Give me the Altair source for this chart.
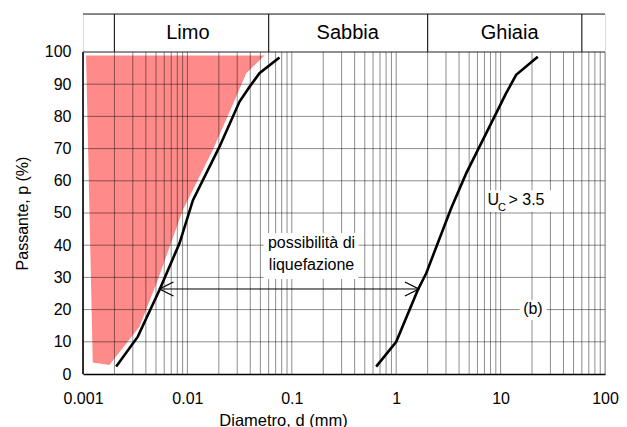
import altair as alt
import pandas as pd

# ---- data ----
left_d = [0.00208, 0.00335, 0.0054, 0.0084, 0.0113, 0.0203, 0.0316, 0.0394, 0.049, 0.0762]
left_p = [2.3, 11.6, 26.1, 40.6, 54.0, 70.6, 84.6, 89.2, 93.4, 98.3]
right_d = [0.643, 1.0, 1.61, 1.94, 3.36, 4.68, 6.28, 9.08, 11.3, 14.1, 22.7]
right_p = [2.3, 10.0, 26.1, 31.3, 51.5, 62.3, 70.6, 81.0, 87.2, 92.9, 98.5]

# liquefaction zone (red): lower boundary vs diameter, flat top
red_d = [0.00107, 0.00124, 0.00179, 0.00347, 0.0052, 0.00904, 0.0175, 0.0293, 0.0366, 0.0548]
red_low = [98.9, 3.6, 2.8, 14.7, 29.2, 50.9, 69.6, 86.1, 93.4, 98.9]
red_top = 98.9

x_ticks = [0.001, 0.01, 0.1, 1, 10, 100]
y_ticks = [0, 10, 20, 30, 40, 50, 60, 70, 80, 90, 100]
grid_x = [0.001, 0.002, 0.003, 0.004, 0.005, 0.006, 0.007, 0.008, 0.009,
          0.01, 0.02, 0.03, 0.04, 0.05, 0.06, 0.07, 0.08, 0.09,
          0.1, 0.2, 0.3, 0.4, 0.5, 0.6, 0.7, 0.8, 0.9,
          1, 2, 3, 4, 5, 6, 7, 8, 9,
          10, 20, 30, 40, 50, 60, 70, 80, 90, 100]
grid_y = [10, 20, 30, 40, 50, 60, 70, 80, 90]

class_bounds = [0.002, 0.06, 2, 60]
class_names = ["Limo", "Sabbia", "Ghiaia"]
class_label_d = [0.0101, 0.3436, 12.2]

arrow_p = 26.4
arrow_from = 0.0054
arrow_to = 1.65

FONT = "Liberation Sans"
P_MAX = 100
HEADER_TOP = 111.8

X = alt.Scale(type="log", domain=[0.001, 100], nice=False)
Y = alt.Scale(domain=[0, HEADER_TOP], nice=False, zero=False)

AX = alt.Axis(
    values=x_ticks, format="~g", title="Diametro, d (mm)", grid=False,
    ticks=False, tickSize=0, labelPadding=16, labelFontSize=16, labelFont=FONT,
    labelColor="black", domainColor="black", domainWidth=1.5,
    titleFont=FONT, titleFontSize=16.5, titleFontWeight="normal", titleColor="black",
    titleX=200, titleY=51, titleBaseline="alphabetic", labelFlush=False)
AY = alt.Axis(
    values=y_ticks, title="Passante, p (%)", grid=False, domain=False,
    ticks=False, tickSize=0, labelPadding=12, labelFontSize=16, labelFont=FONT,
    labelColor="black", titleFont=FONT, titleFontSize=16, titleFontWeight="normal",
    titleColor="black", titleX=-56, titleY=199, titleBaseline="alphabetic")


def xe(f):
    return alt.X(f, type="quantitative", scale=X, axis=AX)


def ye(f):
    return alt.Y(f, type="quantitative", scale=Y, axis=AY)


red = alt.Chart(pd.DataFrame({"d": red_d, "lo": red_low, "hi": red_top})).mark_area(
    color="#ff8a8a", opacity=1
).encode(x=xe("d"), y=ye("hi"), y2="lo:Q")

# grid drawn as paths (two points per line), layered above the red zone
gv_rows = []
for k, d in enumerate(grid_x):
    gv_rows.append({"d": d, "p": 0, "g": "v%d" % k})
    gv_rows.append({"d": d, "p": P_MAX, "g": "v%d" % k})
for k, p in enumerate(grid_y):
    gv_rows.append({"d": 0.001, "p": p, "g": "h%d" % k})
    gv_rows.append({"d": 100, "p": p, "g": "h%d" % k})
grid = alt.Chart(pd.DataFrame(gv_rows)).mark_line(
    color="black", strokeOpacity=0.45, strokeWidth=1
).encode(x=xe("d"), y=ye("p"), detail="g:N", order=alt.Order("p:Q"))

curves_df = pd.concat([
    pd.DataFrame({"d": left_d, "p": left_p, "s": "a"}),
    pd.DataFrame({"d": right_d, "p": right_p, "s": "b"}),
])
curves = alt.Chart(curves_df).mark_line(color="black", strokeWidth=2.6).encode(
    x=xe("d"), y=ye("p"), detail="s:N", order=alt.Order("p:Q")
)

arrow = alt.Chart(pd.DataFrame({"d0": [arrow_from], "d1": [arrow_to], "p": [arrow_p]})).mark_rule(
    color="black", strokeWidth=1
).encode(x=xe("d0"), x2="d1:Q", y=ye("p"))

head_l = alt.Chart(pd.DataFrame({"d": [arrow_from], "p": [arrow_p]})).mark_point(
    shape="M1,-0.5L0,0L1,0.5", filled=False, size=784, color="black", strokeWidth=1.3, opacity=1
).encode(x=xe("d"), y=ye("p"))
head_r = alt.Chart(pd.DataFrame({"d": [arrow_to], "p": [arrow_p]})).mark_point(
    shape="M-1,-0.5L0,0L-1,0.5", filled=False, size=784, color="black", strokeWidth=1.3, opacity=1
).encode(x=xe("d"), y=ye("p"))

boxes = alt.Chart(pd.DataFrame({
    "d0": [0.0536, 7.16, 15.2], "d1": [0.435, 35.1, 27.5],
    "p0": [29.5, 50.3, 16.8], "p1": [43.8, 57.1, 23.0],
})).mark_rect(color="white").encode(x=xe("d0"), x2="d1:Q", y=ye("p0"), y2="p1:Q")

ann = alt.Chart(pd.DataFrame({
    "d": [0.1545, 0.1545, 20.4],
    "p": [39.1, 32.3, 18.6],
    "t": ["possibilità di", "liquefazione", "(b)"],
})).mark_text(font=FONT, fontSize=16, align="center", baseline="alphabetic", color="black").encode(
    x=xe("d"), y=ye("p"), text="t:N"
)

uc_big = alt.Chart(pd.DataFrame({"d": [7.5, 11.9], "p": [52.5, 52.5], "t": ["U", "> 3.5"]})).mark_text(
    font=FONT, fontSize=16, align="left", baseline="alphabetic", color="black"
).encode(x=xe("d"), y=ye("p"), text="t:N")
uc_sub = alt.Chart(pd.DataFrame({"d": [9.44], "p": [50.7], "t": ["C"]})).mark_text(
    font=FONT, fontSize=11, align="left", baseline="alphabetic", color="black"
).encode(x=xe("d"), y=ye("p"), text="t:N")

left_border = alt.Chart(pd.DataFrame({"d": [0.001], "p0": [0], "p1": [P_MAX]})).mark_rule(
    color="black", strokeWidth=1.5
).encode(x=xe("d"), y=ye("p0"), y2="p1:Q")

header_h = alt.Chart(pd.DataFrame({"p": [P_MAX, HEADER_TOP], "d0": 0.001, "d1": 100})).mark_rule(
    color="#222222", strokeWidth=1.2
).encode(x=xe("d0"), x2="d1:Q", y=ye("p"))

header_v = alt.Chart(pd.DataFrame({"d": class_bounds, "p0": P_MAX, "p1": HEADER_TOP})).mark_rule(
    color="#222222", strokeWidth=1.2
).encode(x=xe("d"), y=ye("p0"), y2="p1:Q")

header_t = alt.Chart(pd.DataFrame({"d": class_label_d, "p": 104.0, "t": class_names})).mark_text(
    font=FONT, fontSize=20, align="center", baseline="alphabetic", color="black"
).encode(x=xe("d"), y=ye("p"), text="t:N")

chart = alt.layer(
    red, grid, curves, arrow, head_l, head_r, boxes, ann, uc_big, uc_sub,
    left_border, header_h, header_v, header_t,
).properties(
    width=522, height=360,
    autosize=alt.AutoSizeParams(type="none"),
    padding={"left": 75, "top": 6, "right": 14, "bottom": 53},
).configure_view(stroke=None).configure(background="white")

chart.save("out.html", embed_options={"renderer": "svg", "actions": False})
